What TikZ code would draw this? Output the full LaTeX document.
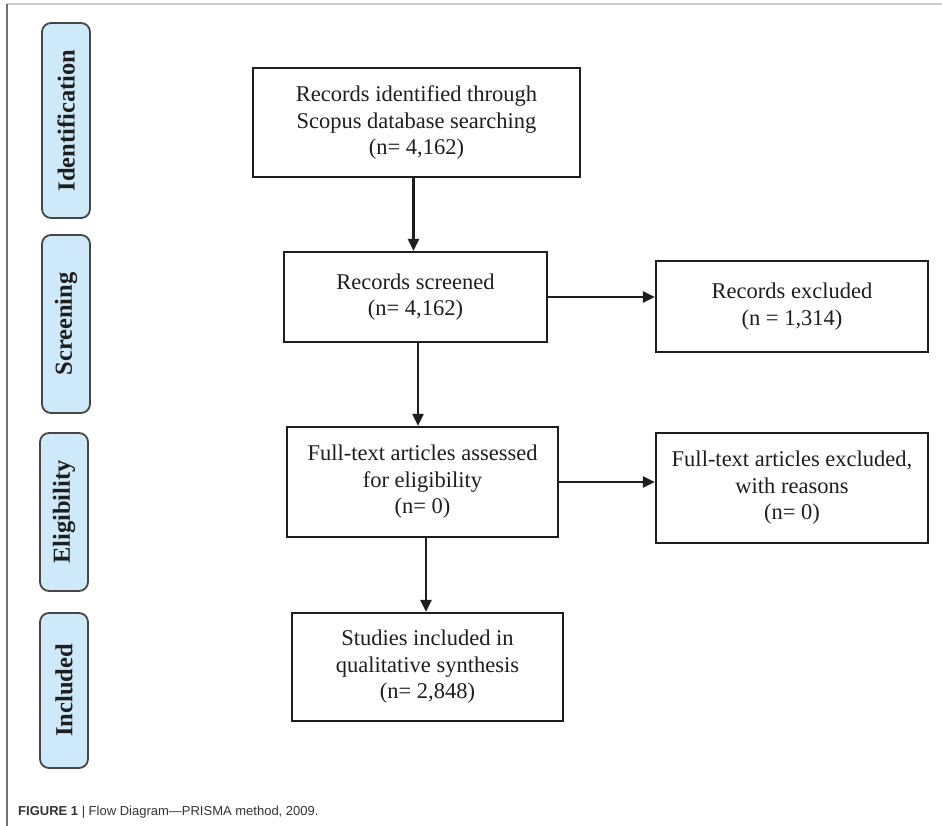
\documentclass[tikz,border=0pt]{standalone}
\usepackage{fontspec}
\setmainfont{Liberation Serif}
\setsansfont{Liberation Sans}
\usetikzlibrary{arrows.meta}
\definecolor{sideblue}{RGB}{206,233,250}
\definecolor{sideedge}{RGB}{70,70,70}
\definecolor{ink}{RGB}{30,30,30}
\tikzset{
  flowbox/.style={draw=ink, line width=2.2pt, rectangle, align=center, text=ink,
    font=\fontsize{22.5}{26.5}\selectfont, inner sep=2pt},
  sidebox/.style={draw=sideedge, fill=sideblue, line width=1.8pt, rounded corners=9pt,
    rotate=90, minimum height=48pt, inner sep=0pt, text=ink,
    font=\fontsize{24.5}{26}\selectfont\bfseries},
  arr/.style={draw=ink, line width=2.2pt, -{Triangle[length=12pt,width=11pt]}}
}
\begin{document}
\begin{tikzpicture}[x=1pt,y=-1pt]
\useasboundingbox[fill=white] (0,0) rectangle (942,826);
% frame
\draw[color=black!20, line width=1.2pt] (7,4) -- (942,4);
\draw[color=black!55, line width=1.2pt] (7,4) -- (7,826);
% side labels
\node[sidebox, minimum width=195pt] (sid) at (66,120.5) {Identification};
\node[sidebox, minimum width=178pt] (sscr) at (66,324) {Screening};
\node[sidebox, minimum width=158pt] (selig) at (64,512) {Eligibility};
\node[sidebox, minimum width=155pt] (sinc) at (64,690.5) {Included};
% flow boxes
\node[flowbox, minimum width=327pt, minimum height=109pt] (b1) at (416.5,122.5)
  {Records identified through\\Scopus database searching\\(n= 4,162)};
\node[flowbox, minimum width=263pt, minimum height=90pt] (b2) at (415.5,297)
  {Records screened\\(n= 4,162)};
\node[flowbox, minimum width=272pt, minimum height=91pt] (b3) at (792,306.5)
  {Records excluded\\(n = 1,314)};
\node[flowbox, minimum width=271pt, minimum height=110pt] (b4) at (422.5,482)
  {Full-text articles assessed\\for eligibility\\(n= 0)};
\node[flowbox, minimum width=272pt, minimum height=110pt] (b5) at (792,488)
  {Full-text articles excluded,\\with reasons\\(n= 0)};
\node[flowbox, minimum width=271pt, minimum height=108pt] (b6) at (427.5,667)
  {Studies included in\\qualitative synthesis\\(n= 2,848)};
% connectors
\draw[arr] ([xshift=-3pt]b1.south) -- ([xshift=-3pt]b1.south |- b2.north);
\draw[arr] (b2.east) -- (b2.east -| b3.west);
\draw[arr] ([xshift=2.5pt]b2.south) -- ([xshift=2.5pt]b2.south |- b4.north);
\draw[arr] (b4.east) -- (b4.east -| b5.west);
\draw[arr] ([xshift=3.5pt]b4.south) -- ([xshift=3.5pt]b4.south |- b6.north);
% caption
\node[anchor=base west, inner sep=0pt, text=black!80,
  font=\sffamily\fontsize{13}{15}\selectfont] (cap) at (18,815)
  {\textbf{FIGURE 1} | Flow Diagram—PRISMA method, 2009.};
\end{tikzpicture}
\end{document}
